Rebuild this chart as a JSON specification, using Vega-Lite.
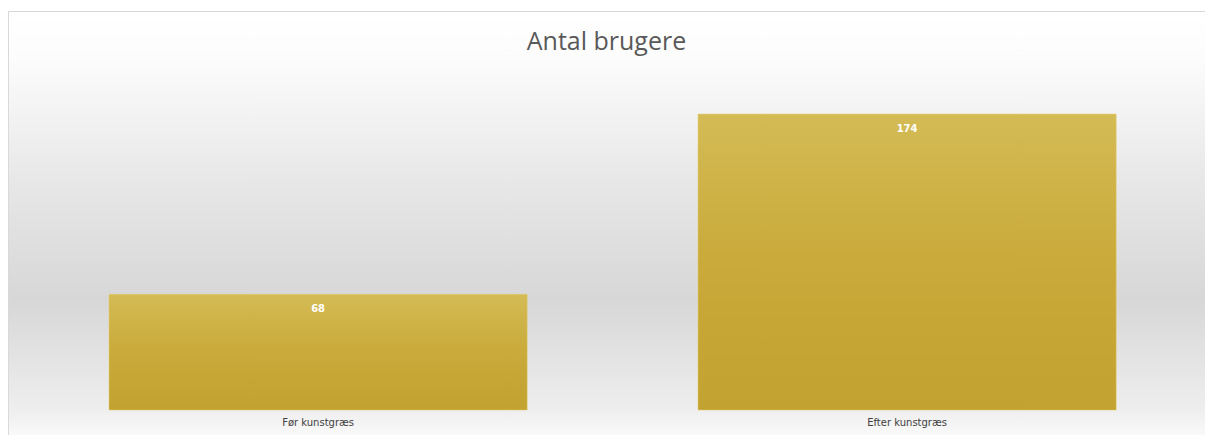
{
  "$schema": "https://vega.github.io/schema/vega-lite/v6.json",
  "autosize": {"type": "none"},
  "padding": {"left": 8, "top": 11, "right": 0, "bottom": 0},
  "width": 1197,
  "height": 424,
  "background": "#ffffff",
  "title": {
    "text": "Antal brugere",
    "orient": "top",
    "anchor": "middle",
    "offset": -50,
    "dy": 19,
    "fontSize": 25,
    "font": "Open Sans",
    "fontWeight": 500,
    "color": "#595959",
    "baseline": "bottom"
  },
  "config": {
    "view": {
      "stroke": "#d9d9d9",
      "strokeWidth": 1,
      "fill": {
        "gradient": "linear",
        "x1": 0, "y1": 0, "x2": 0, "y2": 1,
        "stops": [
          {"offset": 0, "color": "#ffffff"},
          {"offset": 0.11, "color": "#fcfcfc"},
          {"offset": 0.42, "color": "#e6e6e6"},
          {"offset": 0.68, "color": "#d7d7d7"},
          {"offset": 0.94, "color": "#eeeeee"},
          {"offset": 1, "color": "#fafafa"}
        ]
      }
    }
  },
  "data": {
    "values": [
      {"kategori": "Før kunstgræs", "antal": 68},
      {"kategori": "Efter kunstgræs", "antal": 174}
    ]
  },
  "encoding": {
    "x": {
      "field": "kategori",
      "type": "nominal",
      "sort": null,
      "scale": {"range": [15.6, 1193.6], "paddingInner": 0.29, "paddingOuter": 0.145},
      "axis": {
        "title": null,
        "labelAngle": 0,
        "domain": false,
        "ticks": false,
        "labelFont": "DejaVu Sans",
        "labelFontSize": 10,
        "labelColor": "#404040",
        "labelPadding": 2,
        "offset": -20
      }
    },
    "y": {
      "field": "antal",
      "type": "quantitative",
      "scale": {"domain": [-14.7, 234.6], "nice": false, "zero": false},
      "axis": null
    }
  },
  "layer": [
    {
      "mark": {
        "type": "bar",
        "fill": {
          "gradient": "linear",
          "x1": 0, "y1": 0, "x2": 0, "y2": 1,
          "stops": [
            {"offset": 0, "color": "#d4bb55"},
            {"offset": 0.5, "color": "#c9aa3a"},
            {"offset": 1, "color": "#c2a230"}
          ]
        },
        "stroke": "#e3cc6a",
        "strokeWidth": 0.5
      }
    },
    {
      "mark": {
        "type": "text",
        "baseline": "top",
        "dy": 10,
        "color": "#ffffff",
        "font": "DejaVu Sans",
        "fontWeight": "bold",
        "fontSize": 10
      },
      "encoding": {
        "text": {"field": "antal", "type": "quantitative"}
      }
    }
  ]
}
